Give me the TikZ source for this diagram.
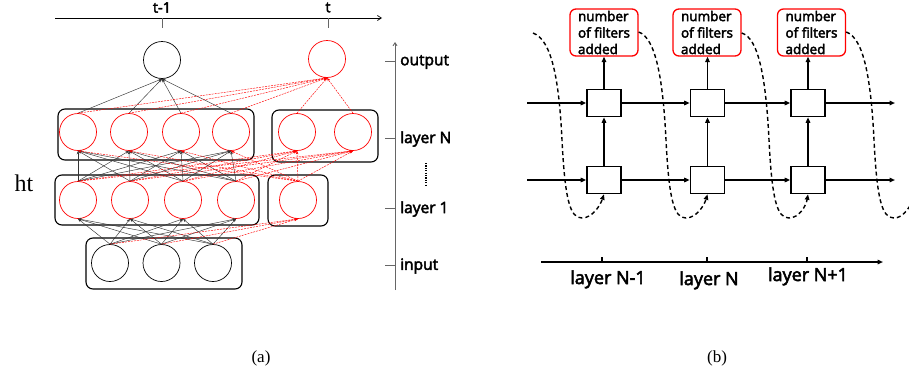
\documentclass[tikz,border=0pt]{standalone}
\usepackage{fontspec}
\setmainfont{Open Sans}[FakeBold=3]
\newfontfamily\tnr{Liberation Serif}
\usetikzlibrary{arrows.meta}
\begin{document}
\begin{tikzpicture}[x=1pt,y=-1pt,
  nn/.style={circle, draw=black, line width=0.7, minimum size=37, inner sep=0},
  rn/.style={nn, draw=red},
  grp/.style={draw, rounded corners=7, line width=1.1, inner sep=0},
  bl/.style={-{Stealth[length=3.5,width=2.6]}, line width=0.45, black!80},
  rl/.style={-{Stealth[length=3.5,width=2.6]}, red, line width=0.45, dash pattern=on 2pt off 1pt},
  lab/.style={anchor=west, inner sep=0, font=\fontsize{15.5}{18}\selectfont},
  rbox/.style={draw=red, line width=1.3, rounded corners=6, minimum width=68, minimum height=47, inner sep=0, align=left, font=\fontsize{13.5}{16.5}\selectfont},
  sq/.style={draw, line width=1.6, minimum width=34, minimum height=27, inner sep=0},
  ar/.style={-{Triangle[length=5.5,width=4.5]}, line width=1.8},
  da/.style={-{Triangle[length=5.5,width=4.5]}, line width=1.4, dash pattern=on 4pt off 3pt},
  blab/.style={anchor=base, inner sep=0, font=\fontsize{18}{20}\selectfont}
]
\useasboundingbox (0,0) rectangle (909,375);

% ---------------- panel (a) ----------------
\node[grp, minimum width=196, minimum height=51] (gN) at (156,134.5) {};
\node[grp, minimum width=106, minimum height=52] (gNt) at (325,136) {};
\node[grp, minimum width=204, minimum height=50] (g1) at (157,200) {};
\node[grp, minimum width=60, minimum height=51] (g1t) at (298,200.5) {};
\node[grp, minimum width=156, minimum height=51] (gI) at (164,263.5) {};

\node[nn] (o1) at (162,60) {};
\node[rn] (o2) at (327,59) {};
\node[rn] (N1) at (78,132) {};
\node[rn] (N2) at (129,132) {};
\node[rn] (N3) at (181,132) {};
\node[rn] (N4) at (231,132) {};
\node[rn] (Nt1) at (297,132) {};
\node[rn] (Nt2) at (353,132) {};
\node[rn] (L1) at (78,200) {};
\node[rn] (L2) at (130,200) {};
\node[rn] (L3) at (183,200) {};
\node[rn] (L4) at (236,200) {};
\node[rn] (Lt) at (298,200) {};
\node[nn] (I1) at (110,263) {};
\node[nn] (I2) at (161.5,263) {};
\node[nn] (I3) at (213,263) {};

\foreach \a in {I1,I2,I3} \foreach \b in {L1,L2,L3,L4} \draw[bl] (\a.north) -- (\b.south);
\foreach \a in {L1,L2,L3,L4} \foreach \b in {N1,N2,N3,N4} \draw[bl] (\a.north) -- (\b.south);
\foreach \a in {N1,N2,N3,N4} \draw[bl] (\a.north) -- (o1.south);
\foreach \a in {I1,I2,I3} \draw[rl] (\a.north) -- (Lt.south);
\foreach \a in {L1,L2,L3,L4,Lt} \foreach \b in {Nt1,Nt2} \draw[rl] (\a.north) -- (\b.south);
\foreach \b in {N1,N2,N3,N4} \draw[rl] (Lt.north) -- (\b.south);
\foreach \a in {N1,N2,N3,N4,Nt1,Nt2} \draw[rl] (\a.north) -- (o2.south);

% time axis
\coordinate (ta0) at (55,18);
\coordinate (ta1) at (382,18);
\draw[line width=0.7, -{Straight Barb[length=4,width=5]}] (ta0) -- (ta1);
\draw[line width=0.8, black!60] (162,18) -- (162,28);
\draw[line width=0.8, black!60] (328,18) -- (328,28);
\node[inner sep=0, font=\fontsize{14.5}{16}\selectfont] (tm1) at (162,7.5) {t-1};
\node[inner sep=0, font=\fontsize{14.5}{16}\selectfont] (tt) at (328,7.5) {t};

% layer axis
\coordinate (la0) at (395,290);
\coordinate (la1) at (395,42);
\draw[line width=0.9, black!60, -{Straight Barb[length=3,width=4]}] (la0) -- (la1);
\foreach \y in {61,138,208,265} \draw[line width=0.9, black!60] (385,\y) -- (395,\y);
\node[lab] (lo) at (400,62) {output};
\node[lab] (lN) at (400,139) {layer N};
\node[lab] (l1) at (400,209) {layer 1};
\node[lab] (lin) at (400,266) {input};
\draw[line width=1.3, dash pattern=on 1.2pt off 1.2pt] (426,163) -- (426,186);

\node[inner sep=0, font=\tnr\fontsize{24}{26}\selectfont] (ht) at (24,183) {ht};

% ---------------- panel (b) ----------------
\node[rbox] (rb1) at (604,32.5) {number\\of filters\\added};
\node[rbox] (rb2) at (707,32.5) {number\\of filters\\added};
\node[rbox] (rb3) at (811.5,32.5) {number\\of filters\\added};

\node[sq] (u1) at (604,103) {};
\node[sq] (u2) at (707.5,103) {};
\node[sq] (u3) at (808,103) {};
\node[sq] (d1) at (604,180) {};
\node[sq] (d2) at (707.5,180) {};
\node[sq] (d3) at (808,180) {};

\coordinate (us) at (527,103);
\coordinate (ue) at (895,103);
\coordinate (ds) at (527,180);
\coordinate (de) at (895,180);
\draw[ar] (us) -- (u1.west);
\draw[ar] (u1.east) -- (u2.west);
\draw[ar] (u2.east) -- (u3.west);
\draw[ar] (u3.east) -- (ue);
\draw[ar] (ds) -- (d1.west);
\draw[ar] (d1.east) -- (d2.west);
\draw[ar] (d2.east) -- (d3.west);
\draw[ar] (d3.east) -- (de);
\foreach \i in {1,2,3} {
  \draw[ar] (d\i.north) -- (u\i.south);
  \draw[ar] (u\i.north) -- (u\i.north |- rb\i.south);
}

% dashed feedback curves
\coordinate (c0) at (533,33);
\coordinate (c4) at (914,199);
\draw[da] (c0) .. controls (552,40) and (559,80) .. (562,140)
  .. controls (565,200) and (570,218) .. (582,218)
  .. controls (592,218) and (600,206) .. (d1.south);
\draw[da] (rb1.east |- 0,32) .. controls (656,38) and (663,80) .. (666,140)
  .. controls (669,200) and (674,218) .. (686,218)
  .. controls (696,218) and (704,206) .. (d2.south);
\draw[da] (rb2.east |- 0,33) .. controls (759,38) and (766,80) .. (769,140)
  .. controls (772,200) and (777,218) .. (789,218)
  .. controls (799,218) and (806,206) .. (d3.south);
\draw[line width=1.4, dash pattern=on 4pt off 3pt] (rb3.east |- 0,32) .. controls (864,38) and (871,80) .. (874,140)
  .. controls (877,200) and (882,218) .. (894,218)
  .. controls (902,218) and (908,210) .. (c4);

% layer axis (b)
\coordinate (ba0) at (541,262);
\coordinate (ba1) at (883,262);
\draw[line width=1.4, -{Triangle[length=5.5,width=4.5]}] (ba0) -- (ba1);
\foreach \x in {602,707,807} \draw[line width=1.4] (\x,262) -- (\x,257);
\node[blab] (bl1) at (608,284) {layer N-1};
\node[blab] (bl2) at (709,285) {layer N};
\node[blab] (bl3) at (808,281) {layer N+1};

% captions
\node[inner sep=0, font=\tnr\fontsize{17}{19}\selectfont] (capa) at (261,358) {(a)};
\node[inner sep=0, font=\tnr\fontsize{17}{19}\selectfont] (capb) at (717,358) {(b)};
\end{tikzpicture}
\end{document}
